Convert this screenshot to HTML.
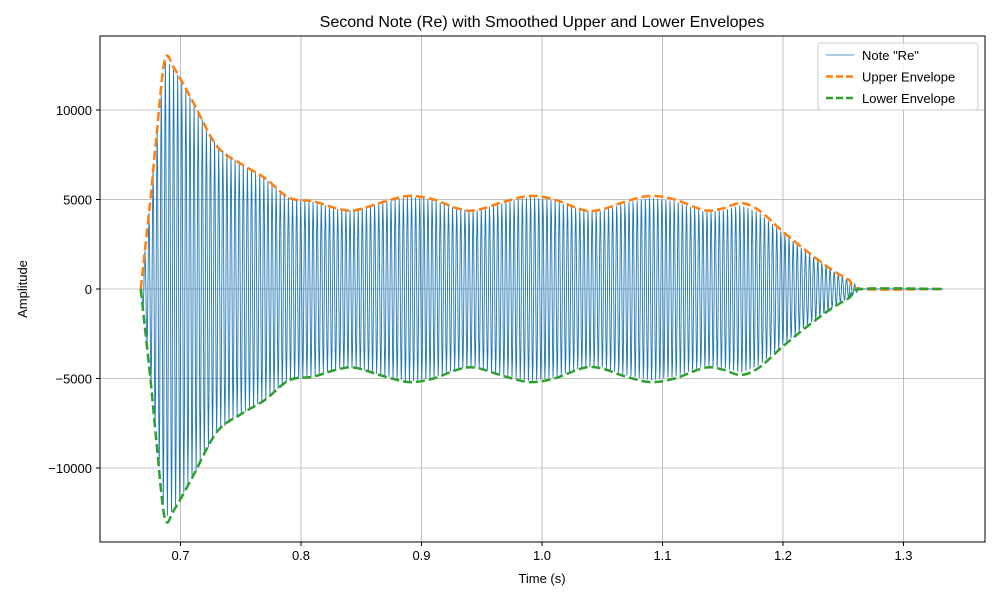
<!DOCTYPE html>
<html><head><meta charset="utf-8"><style>
body{margin:0;background:#fff;font-family:"Liberation Sans","DejaVu Sans",sans-serif}
svg text{font-family:"Liberation Sans","DejaVu Sans",sans-serif}
</style></head><body>
<svg id="c" width="1000" height="600" xmlns="http://www.w3.org/2000/svg"></svg>
<script>
const envTimes=[0.667,0.675,0.68,0.687,0.695,0.71,0.73,0.75,0.77,0.79,0.81,0.83,0.845,0.87,0.89,0.91,0.93,0.945,0.97,0.99,1.01,1.035,1.05,1.07,1.09,1.11,1.135,1.15,1.165,1.18,1.2,1.22,1.24,1.255,1.265,1.333];
const upperEnv=[0,5000,8500,12800,12300,10500,8000,7000,6200,5100,4900,4500,4400,4900,5200,5000,4500,4400,4900,5200,5000,4400,4450,4900,5200,5000,4400,4500,4800,4400,3200,2100,1100,500,0,0];
const lowerEnv=[0,-5000,-8500,-12800,-12300,-10500,-8000,-7000,-6200,-5100,-4900,-4500,-4400,-4900,-5200,-5000,-4500,-4400,-4900,-5200,-5000,-4400,-4450,-4900,-5200,-5000,-4400,-4500,-4800,-4400,-3200,-2100,-1100,-500,0,0];
const noteFreq=293.66;
const xTicks=[0.7,0.8,0.9,1.0,1.1,1.2,1.3];
const yTicks=[-10000,-5000,0,5000,10000];
const L=100,R=985,T=36,B=542;
const X=t=>542+(t-1.0)*1205;
const Y=v=>289-v*89.5/5000;
const svg=document.getElementById('c');
const NS='http://www.w3.org/2000/svg';
function mk(tag,attrs,parent){const e=document.createElementNS(NS,tag);for(const k in attrs)e.setAttribute(k,attrs[k]);(parent||svg).appendChild(e);return e;}
function interp(t,arr){if(t<=envTimes[0])return arr[0];for(let i=1;i<envTimes.length;i++){if(t<=envTimes[i]){const f=(t-envTimes[i-1])/(envTimes[i]-envTimes[i-1]);return arr[i-1]+f*(arr[i]-arr[i-1]);}}return arr[arr.length-1];}
function smoothPath(arr){const P=envTimes.map((t,i)=>[X(t),Y(arr[i])]);let p='M'+P[0][0].toFixed(2)+' '+P[0][1].toFixed(2);for(let i=0;i<P.length-1;i++){const p0=P[Math.max(0,i-1)],p1=P[i],p2=P[i+1],p3=P[Math.min(P.length-1,i+2)];const c1=[p1[0]+(p2[0]-p0[0])/6,p1[1]+(p2[1]-p0[1])/6],c2=[p2[0]-(p3[0]-p1[0])/6,p2[1]-(p3[1]-p1[1])/6];p+='C'+c1[0].toFixed(2)+' '+c1[1].toFixed(2)+' '+c2[0].toFixed(2)+' '+c2[1].toFixed(2)+' '+p2[0].toFixed(2)+' '+p2[1].toFixed(2);}return p;}
const grid=mk('g',{});


xTicks.forEach(t=>{const l=mk('line',{x1:X(t),x2:X(t),y1:T,y2:B,stroke:'#b0b0b0','stroke-width':0.8},grid);});
yTicks.forEach(v=>{const l=mk('line',{x1:L,x2:R,y1:Y(v),y2:Y(v),stroke:'#b0b0b0','stroke-width':0.8},grid);});
let d='';const t0=0.667,t1=1.333,n=Math.round((t1-t0)*noteFreq*8);
for(let i=0;i<=n;i++){const t=t0+(t1-t0)*i/n;const a=interp(t,upperEnv);const v=a*Math.sin(2*Math.PI*noteFreq*(t-t0)+Math.PI/2);d+=(i?'L':'M')+X(t).toFixed(2)+' '+Y(v).toFixed(2);}
const sig=mk('path',{d:d,fill:'none',stroke:'#1f77b4','stroke-width':0.9});


function envPath(arr,color,name){const e=mk('path',{d:smoothPath(arr),fill:'none',stroke:color,'stroke-width':2.5,'stroke-dasharray':'9,4'});}
envPath(upperEnv,'#ff7f0e','upper-envelope');
envPath(lowerEnv,'#2ca02c','lower-envelope');
const fr=mk('rect',{x:L,y:T,width:R-L,height:B-T,fill:'none',stroke:'#000','stroke-width':1});


xTicks.forEach(t=>{mk('line',{x1:X(t),x2:X(t),y1:B,y2:B+4,stroke:'#000'});const tx=mk('text',{x:X(t),y:B+18,'text-anchor':'middle','font-size':13});tx.textContent=t.toFixed(1);});
yTicks.forEach(v=>{mk('line',{x1:L-4,x2:L,y1:Y(v),y2:Y(v),stroke:'#000'});const tx=mk('text',{x:L-8,y:Y(v)+5,'text-anchor':'end','font-size':13});tx.textContent=v<0?'\u2212'+(-v):String(v);});
const ti=mk('text',{x:542,y:27,'text-anchor':'middle','font-size':16});ti.textContent='Second Note (Re) with Smoothed Upper and Lower Envelopes';
const xl=mk('text',{x:542,y:583,'text-anchor':'middle','font-size':13});xl.textContent='Time (s)';
const yl=mk('text',{x:27,y:289,'text-anchor':'middle','font-size':13,transform:'rotate(-90 27 289)'});yl.textContent='Amplitude';
const lg=mk('g',{});


mk('rect',{x:818,y:43,width:160,height:67,rx:3,fill:'#fff','fill-opacity':0.8,stroke:'#ccc'},lg);
const items=[['Note "Re"','#1f77b4',0.8,null],['Upper Envelope','#ff7f0e',2.5,'7,3'],['Lower Envelope','#2ca02c',2.5,'7,3']];
items.forEach((it,i)=>{const y=55+i*21.5;const a={x1:826,x2:854,y1:y,y2:y,stroke:it[1],'stroke-width':it[2]};if(it[3])a['stroke-dasharray']=it[3];mk('line',a,lg);const tx=mk('text',{x:862,y:y+5,'font-size':13},lg);tx.textContent=it[0];});
</script>
</body></html>
